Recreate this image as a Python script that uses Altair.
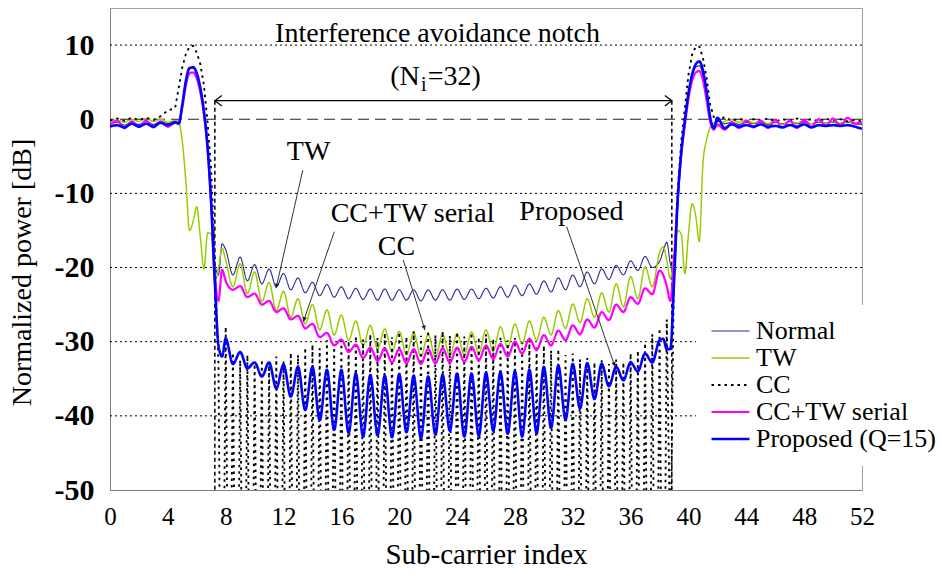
import altair as alt
import numpy as np
import pandas as pd

# ---- plot geometry -------------------------------------------------------
W, H = 752, 482
X_MAX, Y_MIN, Y_MAX = 52, -50, 15
FONT = "Liberation Serif"

# sub-carrier sample grid: 0.5 steps, 0.25 steps across the two band edges
x_grid = np.concatenate([
    np.arange(0.0, 4.51, 0.5),     # 0 .. 4.5
    np.arange(4.75, 8.01, 0.25),   # 4.75 .. 8
    np.arange(8.5, 38.01, 0.5),    # 8.5 .. 38
    np.arange(38.25, 42.01, 0.25), # 38.25 .. 42
    np.arange(42.5, 52.01, 0.5),   # 42.5 .. 52
])

# ---- normalized power [dB] on x_grid -------------------------------------
normal_db = [
    -0.6, -0.4, -0.8, -0.4, -0.7, -0.3, -0.7, -0.3, -0.6, -0.2,
    -0.3, 2.0, 5.0, 6.8, 6.9, 6.0, 4.0, 0.8, -4.0, -11.5, -19.5, -21.0, -16.8, -17.6,
    -21.0, -18.6, -21.8, -19.6, -22.2, -20.2, -22.6, -20.8, -23.0, -21.4,
    -23.4, -22.0, -23.8, -22.3, -24.0, -22.6, -24.2, -22.8, -24.3, -22.9,
    -24.4, -22.9, -24.4, -23.0, -24.4, -23.0, -24.5, -23.0, -24.4, -23.0,
    -24.4, -22.9, -24.3, -22.9, -24.2, -22.8, -24.1, -22.6, -24.0, -22.4,
    -23.8, -22.2, -23.6, -21.8, -23.3, -21.4, -23.0, -21.0, -22.6, -20.6,
    -22.2, -20.2, -21.6, -19.7, -21.0, -19.1, -20.4, -18.5, -20.0, -19.2,
    -17.8, -16.6, -19.5, -20.5, -12.0, -4.8, -0.4, 3.3, 5.8, 7.0, 7.2, 6.0, 3.2, 0.1, -1.0, -0.2,
    -0.6, -0.4, -0.7, -0.4, -0.6, -0.4, -0.7, -0.4, -0.6, -0.3,
    -0.6, -0.4, -0.6, -0.4, -0.5, -0.4, -0.6, -0.4, -0.6, -0.7,
]

tw_db = [
    -0.3, -0.1, -0.4, 0.0, -0.3, 0.1, -0.3, 0.0, -0.4, -0.2,
    -0.4, -3.0, -8.5, -15.0, -13.8, -11.8, -16.0, -20.2, -15.3, -15.5, -22.0, -20.0, -17.4, -19.0,
    -22.6, -19.5, -23.5, -20.6, -24.6, -22.0, -25.8, -23.2, -26.7, -24.2,
    -27.6, -25.0, -28.4, -25.7, -29.1, -26.4, -29.8, -27.2, -30.5, -27.8,
    -31.0, -28.3, -31.4, -28.6, -31.8, -28.8, -32.0, -29.0, -32.1, -29.0,
    -32.0, -28.9, -31.8, -28.7, -31.6, -28.4, -31.3, -28.0, -30.8, -27.6,
    -30.3, -27.2, -29.8, -26.7, -29.1, -25.8, -28.2, -24.9, -27.4, -24.2,
    -26.7, -23.4, -26.0, -22.2, -25.3, -21.2, -24.2, -19.9, -22.6, -18.0,
    -17.2, -19.0, -21.5, -18.5, -15.0, -15.5, -20.8, -15.5, -11.4, -13.0, -16.5, -6.0, -2.8, -1.1, -0.5, -1.0,
    -0.3, -0.1, -0.4, -0.1, -0.5, -0.2, -0.6, -0.2, -0.7, -0.3,
    -0.5, -0.2, -0.6, -0.2, -0.5, -0.3, -0.5, -0.3, -0.5, -0.4,
]

cctw_db = [
    -0.8, -0.2, -1.2, -0.3, -1.0, -0.2, -1.1, -0.3, -1.0, -0.5,
    -0.6, 1.6, 4.6, 6.2, 6.3, 5.5, 3.6, 0.6, -4.0, -11.5, -21.0, -24.5, -20.3, -21.8,
    -23.0, -22.5, -24.0, -23.5, -25.0, -24.5, -26.0, -25.5, -27.0, -26.5,
    -28.2, -27.6, -29.4, -28.8, -30.5, -29.7, -31.4, -30.4, -32.2, -30.8,
    -32.6, -30.9, -32.8, -31.0, -32.9, -31.0, -33.0, -31.0, -32.9, -30.9,
    -32.8, -30.8, -32.7, -30.7, -32.5, -30.5, -32.3, -30.3, -32.0, -30.0,
    -31.6, -29.6, -31.1, -29.1, -30.5, -28.5, -29.8, -27.8, -29.0, -27.0,
    -28.1, -26.0, -27.1, -25.0, -26.0, -24.0, -24.9, -22.8, -23.6, -20.4,
    -21.0, -22.5, -24.5, -19.0, -11.0, -4.8, -0.8, 2.8, 5.2, 6.3, 6.5, 5.3, 2.6, -0.3, -1.4, -0.7,
    -1.4, -0.4, -1.2, -0.2, -1.1, -0.2, -1.2, -0.1, -1.1, -0.2,
    -1.2, -0.1, -1.0, 0.0, -0.9, 0.1, -0.9, 0.2, -0.6, -0.4,
]

proposed_db = [
    -1.0, -0.8, -1.1, -0.6, -1.0, -0.6, -1.0, -0.5, -0.8, -0.4,
    -0.6, 2.0, 5.2, 6.9, 7.0, 6.2, 4.2, 1.0, -3.8, -11.5, -22.0, -30.5, -32.0, -29.6,
    -33.0, -31.4, -33.6, -32.8, -34.7, -32.8, -36.3, -33.1, -37.4, -33.4,
    -39.2, -33.4, -40.6, -33.8, -41.9, -33.8, -42.3, -34.3, -42.8, -34.5,
    -42.6, -34.6, -42.9, -34.4, -42.2, -34.6, -43.0, -34.7, -42.5, -34.5,
    -42.0, -34.3, -42.8, -34.3, -42.7, -34.2, -42.0, -34.1, -42.4, -34.0,
    -42.8, -33.8, -42.3, -33.4, -41.6, -33.2, -40.5, -33.0, -39.0, -32.9,
    -37.7, -33.0, -36.0, -33.4, -35.2, -32.8, -34.0, -31.6, -32.8, -29.8,
    -29.6, -31.0, -31.0, -22.0, -11.0, -4.5, -0.2, 3.5, 6.0, 7.4, 7.8, 6.6, 3.8, 0.3, -1.2, 0.2,
    -1.2, -0.7, -1.0, -0.8, -1.0, -0.7, -1.0, -0.9, -1.1, -0.8,
    -1.0, -0.7, -1.1, -0.8, -0.9, -0.8, -0.9, -0.8, -1.0, -1.3,
]

# ---- CC curve: its own grid, 0.25 steps inside the notch -----------------
cc_x = np.concatenate([
    np.arange(0.0, 4.51, 0.5),      # 0 .. 4.5
    np.arange(4.75, 7.26, 0.25),    # 4.75 .. 7.25
    np.arange(7.5, 38.51, 0.25),    # 7.5 .. 38.5  (peaks and nulls)
    np.arange(38.75, 42.01, 0.25),  # 38.75 .. 42
    np.arange(42.5, 52.01, 0.5),    # 42.5 .. 52
])
cc_left = [
    -0.2, 0.1, -0.2, 0.2, -0.1, 0.2, -0.1, 0.4, 1.2, 1.5,
    4.2, 7.0, 8.8, 9.8, 9.9, 9.0, 7.4, 4.5, -0.5, -7.0, -19.0,
]
# local maxima at 7.5, 8.0, ... 38.5
cc_tops = [
    -33.0, -28.0, -31.5, -32.5, -31.8, -33.0, -32.4, -33.2, -32.0, -32.6,
    -31.5, -31.8, -30.8, -30.4, -30.9, -29.8, -30.3, -29.4, -29.9, -29.2,
    -29.7, -29.0, -29.5, -28.8, -29.4, -28.7, -29.3, -28.6, -29.2, -28.5,
    -29.1, -28.6, -29.2, -28.7, -29.3, -28.8, -29.4, -29.0, -29.6, -29.2,
    -29.8, -29.5, -30.1, -29.8, -30.6, -30.5, -31.2, -31.0, -31.8, -31.6,
    -32.4, -32.2, -32.8, -32.5, -33.0, -32.4, -32.8, -31.6, -31.2, -30.2,
    -29.0, -28.2, -27.0,
]
# deep nulls at 7.75, 8.25, ... 38.25 (far below the -50 dB floor)
cc_nulls = [
    -92, -88, -95, -90, -93, -87, -96, -91, -89, -94,
    -88, -95, -92, -90, -93, -87, -91, -95, -90, -88,
    -94, -92, -96, -89, -88, -93, -91, -95, -90, -92,
    -88, -94, -90, -95, -91, -87, -93, -90, -92, -95,
    -88, -92, -94, -90, -95, -87, -91, -93, -90, -88,
    -95, -92, -89, -94, -88, -91, -95, -90, -93, -88,
    -92, -90,
]
cc_right = [
    -60.0, -20.0, -10.0, -3.0, 1.5, 6.0, 8.7, 9.8, 9.8, 8.3, 5.6, 2.0, 0.3, -0.3,
    0.3, -0.2, 0.1, -0.3, 0.0, -0.2, 0.1, -0.3, 0.0, -0.2,
    0.1, -0.2, 0.0, -0.3, 0.1, -0.2, 0.0, -0.3, -0.1, -0.3,
]
cc_notch = np.empty(len(cc_tops) + len(cc_nulls))
cc_notch[0::2] = cc_tops
cc_notch[1::2] = cc_nulls
cc_db = np.concatenate([cc_left, cc_notch, cc_right])

# ---- series styling --------------------------------------------------------
series_names = ["Normal", "TW", "CC", "CC+TW serial", "Proposed (Q=15)"]
series_colors = ["#2a2a96", "#99cc00", "#000000", "#ff00ff", "#0000ff"]
series_dash = [[1, 0], [1, 0], [2.5, 4], [1, 0], [1, 0]]
series_width = [1.1, 2.6, 2.0, 2.5, 2.8]
series_data = {
    "Normal": (x_grid, normal_db),
    "TW": (x_grid, tw_db),
    "CC": (cc_x, cc_db),
    "CC+TW serial": (x_grid, cctw_db),
    "Proposed (Q=15)": (x_grid, proposed_db),
}

# ---- reference lines and notes ---------------------------------------------
grid_dotted = [10, -10, -20, -30, -40]
grid_zero = [0]
notch_edges = [7.25, 38.85]
notch_arrow_y = 2.5

note_text = ["TW", "CC+TW serial", "CC", "Proposed"]
note_x = [13.73, 20.92, 19.81, 31.91]
note_y = [-5.5, -13.8, -18.3, -13.6]
ptr_x0 = [13.33, 15.51, 20.28, 31.58]
ptr_y0 = [-6.86, -15.17, -18.99, -14.5]
ptr_x1 = [11.48, 13.37, 21.78, 34.92]
ptr_y1 = [-22.8, -27.3, -28.43, -33.38]

# ---- scales / axes ---------------------------------------------------------
x_scale = alt.Scale(domain=[0, X_MAX], nice=False, zero=False)
y_scale = alt.Scale(domain=[Y_MIN, Y_MAX], nice=False, zero=False)
x_axis = alt.Axis(
    values=list(range(0, 53, 4)), title="Sub-carrier index", grid=False, ticks=False,
    labelFont=FONT, labelFontSize=25, labelColor="black", labelPadding=14, labelFlush=False,
    titleFont=FONT, titleFontSize=29, titleFontWeight="normal", titleColor="black", titlePadding=11,
    domainColor="#808080",
)
y_axis = alt.Axis(
    values=list(range(-50, 11, 10)), title="Normalized power [dB]", grid=False, ticks=False,
    labelExpr="datum.value < 0 ? '-' + abs(datum.value) : '' + datum.value",
    labelFont=FONT, labelFontSize=30, labelFontWeight="bold", labelColor="black", labelPadding=16,
    titleFont=FONT, titleFontSize=28, titleFontWeight="normal", titleColor="black",
    titleX=-88, titleY=264, titleBaseline="middle",
    domainColor="#808080",
)
X = lambda f: alt.X(f, type="quantitative", scale=x_scale, axis=x_axis)
Y = lambda f: alt.Y(f, type="quantitative", scale=y_scale, axis=y_axis)

legend = alt.Legend(
    title=None, orient="none", legendX=586, legendY=297, fillColor="white", padding=14,
    symbolType="stroke", symbolSize=1444, labelFont=FONT, labelFontSize=26, labelColor="black",
    labelOffset=5, labelLimit=320, clipHeight=24, rowPadding=1,
)
color_scale = alt.Scale(domain=series_names, range=series_colors)
dash_scale = alt.Scale(domain=series_names, range=series_dash)
width_scale = alt.Scale(domain=series_names, range=series_width)

layers = []

# horizontal reference lines
layers.append(
    alt.Chart(pd.DataFrame({"y": grid_dotted}))
    .mark_rule(color="black", strokeDash=[2, 3], strokeWidth=1)
    .encode(y=Y("y"))
)
layers.append(
    alt.Chart(pd.DataFrame({"y": grid_zero}))
    .mark_rule(color="#222222", strokeDash=[11, 6], strokeWidth=1.2)
    .encode(y=Y("y"))
)
# notch boundaries
edges_df = pd.DataFrame({"x": notch_edges, "y": [notch_arrow_y] * 2, "y2": [Y_MIN] * 2})
layers.append(
    alt.Chart(edges_df)
    .mark_rule(color="black", strokeDash=[4, 3], strokeWidth=1.5)
    .encode(x=X("x"), y=Y("y"), y2="y2")
)

# spectra
for name in series_names:
    xs, ys = series_data[name]
    df = pd.DataFrame({"x": xs, "y": ys, "series": name})
    layers.append(
        alt.Chart(df)
        .mark_line(interpolate="linear" if name == "CC" else "monotone", clip=True)
        .encode(
            x=X("x"),
            y=Y("y"),
            color=alt.Color("series:N", scale=color_scale, legend=legend),
            strokeDash=alt.StrokeDash("series:N", scale=dash_scale, legend=legend),
            strokeWidth=alt.StrokeWidth("series:N", scale=width_scale, legend=legend),
        )
    )

# double-headed arrow across the notch
span_df = pd.DataFrame({"x": [notch_edges[0]], "x2": [notch_edges[1]], "y": [notch_arrow_y]})
layers.append(
    alt.Chart(span_df).mark_rule(color="black", strokeWidth=1.2).encode(x=X("x"), x2="x2", y=Y("y"))
)
heads_df = pd.DataFrame({"x": notch_edges, "y": [notch_arrow_y] * 2, "ang": [180, 0]})
layers.append(
    alt.Chart(heads_df)
    .mark_point(shape="M-1,-0.75L0,0L-1,0.75", filled=False, size=196, color="black",
                strokeWidth=1.2, opacity=1)
    .encode(x=X("x"), y=Y("y"), angle=alt.Angle("ang:Q", scale=None))
)

# pointers from labels to curves
px_per_x = W / X_MAX
px_per_y = H / (Y_MAX - Y_MIN)
ptr_df = pd.DataFrame({"x0": ptr_x0, "y0": ptr_y0, "x1": ptr_x1, "y1": ptr_y1})
ptr_df["ang"] = np.degrees(np.arctan2(-(ptr_df.y1 - ptr_df.y0) * px_per_y,
                                      (ptr_df.x1 - ptr_df.x0) * px_per_x)) % 360
layers.append(
    alt.Chart(ptr_df).mark_rule(color="#333333", strokeWidth=1)
    .encode(x=X("x0"), y=Y("y0"), x2="x1", y2="y1")
)
layers.append(
    alt.Chart(ptr_df)
    .mark_point(shape="M0,0L-1,-0.45L-1,0.45Z", filled=True, size=90, color="#222222", opacity=1)
    .encode(x=X("x1"), y=Y("y1"), angle=alt.Angle("ang:Q", scale=None))
)

# text
notes_df = pd.DataFrame({"x": note_x, "y": note_y, "t": note_text})
layers.append(
    alt.Chart(notes_df)
    .mark_text(font=FONT, fontSize=28, color="black", align="center", baseline="alphabetic")
    .encode(x=X("x"), y=Y("y"), text="t:N")
)
title_df = pd.DataFrame({"x": [22.65], "y": [10.45], "t": ["Interference avoidance notch"]})
layers.append(
    alt.Chart(title_df)
    .mark_text(font=FONT, fontSize=28, color="black", align="center", baseline="alphabetic")
    .encode(x=X("x"), y=Y("y"), text="t:N")
)
ni_df = pd.DataFrame({"x": [21.7], "y": [4.6]})
for txt, al, dx, dy, fs in [("(N", "right", -4, 0, 28), ("i", "center", 0, 6, 20), ("=32)", "left", 4, 0, 28)]:
    layers.append(
        alt.Chart(ni_df)
        .mark_text(font=FONT, fontSize=fs, color="black", align=al, baseline="alphabetic",
                   dx=dx, dy=dy, text=txt)
        .encode(x=X("x"), y=Y("y"))
    )

chart = (
    alt.layer(*layers)
    .properties(
        width=W, height=H,
        padding={"left": 110, "top": 8, "right": 85, "bottom": 83},
        autosize=alt.AutoSizeParams(type="none"),
        background="white",
    )
    .configure_view(stroke="#a0a0a0", strokeWidth=1)
)

chart.save("out.html", embed_options={"renderer": "svg", "actions": False})
